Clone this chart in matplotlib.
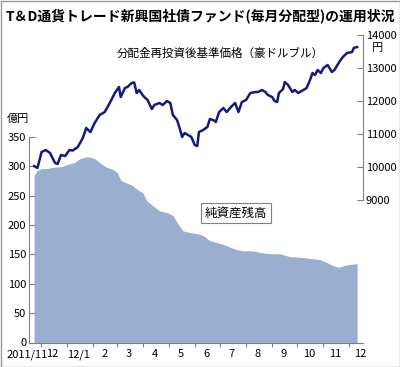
import matplotlib
matplotlib.use("Agg")
import matplotlib.pyplot as plt
import matplotlib.dates as mdates
from matplotlib.patches import Rectangle
import pandas as pd

plt.rcParams['font.family'] = ['Noto Sans CJK JP', 'DejaVu Sans']

# 分配金再投資後基準価格（円）
nav_dates = ["2011-11-23", "2011-11-27", "2011-12-02", "2011-12-07", "2011-12-12", "2011-12-18",
             "2011-12-21", "2011-12-25", "2011-12-30", "2012-01-04", "2012-01-08", "2012-01-14",
             "2012-01-20", "2012-01-24", "2012-01-29", "2012-02-03", "2012-02-09", "2012-02-15",
             "2012-02-21", "2012-02-27", "2012-03-03", "2012-03-05", "2012-03-10", "2012-03-13",
             "2012-03-18", "2012-03-21", "2012-03-24", "2012-03-27", "2012-03-31", "2012-04-02",
             "2012-04-06", "2012-04-11", "2012-04-14", "2012-04-20", "2012-04-24", "2012-04-29",
             "2012-05-03", "2012-05-06", "2012-05-11", "2012-05-14", "2012-05-17", "2012-05-20",
             "2012-05-24", "2012-05-28", "2012-06-01", "2012-06-04", "2012-06-06", "2012-06-11",
             "2012-06-16", "2012-06-19", "2012-06-23", "2012-06-26", "2012-06-30", "2012-07-05",
             "2012-07-09", "2012-07-14", "2012-07-19", "2012-07-23", "2012-07-27", "2012-08-01",
             "2012-08-06", "2012-08-12", "2012-08-15", "2012-08-20", "2012-08-24", "2012-08-27",
             "2012-09-01", "2012-09-04", "2012-09-07", "2012-09-09", "2012-09-14", "2012-09-16",
             "2012-09-20", "2012-09-25", "2012-09-28", "2012-10-02", "2012-10-08", "2012-10-12",
             "2012-10-16", "2012-10-19", "2012-10-22", "2012-10-25", "2012-10-29", "2012-11-01",
             "2012-11-06", "2012-11-11", "2012-11-14", "2012-11-19", "2012-11-24", "2012-11-29",
             "2012-12-05", "2012-12-07", "2012-12-11"]
nav_values = [10030, 9970, 10454, 10515, 10424, 10121,
              10091, 10364, 10333, 10515, 10500, 10606,
              10879, 11182, 11060, 11333, 11576, 11666,
              11939, 12242, 12424, 12121, 12394, 12424,
              12545, 12560, 12242, 12333, 12182, 12121,
              12030, 11757, 11879, 11939, 11879, 12000,
              11939, 11576, 11424, 11182, 10909, 11030,
              10970, 10909, 10667, 10636, 11060, 11121,
              11212, 11454, 11424, 11364, 11666, 11788,
              11666, 11818, 11939, 11666, 11969, 12030,
              12242, 12272, 12272, 12333, 12272, 12182,
              12121, 12000, 11969, 12242, 12363, 12575,
              12485, 12272, 12333, 12242, 12333, 12394,
              12636, 12848, 12788, 12939, 12848, 13000,
              13091, 12878, 12939, 13151, 13333, 13454,
              13485, 13606, 13636]

# 純資産残高（億円）
asset_dates = ["2011-11-23", "2011-11-27", "2011-12-03", "2011-12-09", "2011-12-15", "2011-12-25",
               "2012-01-02", "2012-01-10", "2012-01-17", "2012-01-26", "2012-01-29", "2012-02-03",
               "2012-02-09", "2012-02-16", "2012-02-25", "2012-03-01", "2012-03-05", "2012-03-11",
               "2012-03-19", "2012-03-25", "2012-03-31", "2012-04-05", "2012-04-12", "2012-04-20",
               "2012-04-29", "2012-05-06", "2012-05-12", "2012-05-18", "2012-05-26", "2012-06-04",
               "2012-06-11", "2012-06-19", "2012-06-27", "2012-07-05", "2012-07-13", "2012-07-21",
               "2012-07-28", "2012-08-06", "2012-08-12", "2012-08-17", "2012-08-29", "2012-09-10",
               "2012-09-22", "2012-10-04", "2012-10-16", "2012-10-28", "2012-11-05", "2012-11-12",
               "2012-11-19", "2012-11-26", "2012-12-03", "2012-12-11"]
asset_values = [284, 293, 296, 296, 298, 299,
                303, 306, 313, 316, 315, 313,
                306, 299, 294, 289, 276, 272,
                267, 260, 255, 241, 233, 224,
                221, 216, 202, 190, 187, 185,
                182, 173, 170, 167, 162, 158,
                156, 156, 155, 153, 151, 151,
                146, 145, 143, 141, 136, 131,
                128, 131, 133, 134]

month_ticks = pd.date_range("2011-12-01", "2012-12-01", freq="MS")
month_labels = ["2011/11", "12", "12/1", "2", "3", "4", "5", "6", "7", "8", "9", "10", "11", "12"]
label_dates = pd.date_range("2011-11-01", "2012-12-01", freq="MS") + pd.Timedelta(days=14)

gray = '#808080'

fig = plt.figure(figsize=(4.0, 3.67), dpi=100)
ax = fig.add_axes([29 / 400, 24.5 / 367, 334 / 400, 307.5 / 367])
ax2 = ax.twinx()

ax.fill_between(pd.to_datetime(asset_dates), asset_values, 0, color='#9aafd0', linewidth=0)
ax2.plot(pd.to_datetime(nav_dates), nav_values, color='#141a80', linewidth=1.8)

ax.set_xlim(pd.Timestamp("2011-11-17"), pd.Timestamp("2012-12-18"))
ax.set_ylim(0, 523)
ax2.set_ylim(4682, 14000)

ax.set_yticks(range(0, 351, 50))
ax2.set_yticks(range(9000, 14001, 1000))
ax.set_xticks(month_ticks)
ax.set_xticklabels([])

for s in ['top', 'right']:
    ax.spines[s].set_visible(False)
for s in ['top', 'left', 'bottom']:
    ax2.spines[s].set_visible(False)
ax.spines['left'].set_bounds(0, 350)
ax2.spines['right'].set_bounds(9000, 14000)
for sp in [ax.spines['left'], ax.spines['bottom'], ax2.spines['right']]:
    sp.set_color(gray)
    sp.set_linewidth(0.8)

ax.tick_params(axis='y', direction='in', length=4, width=0.8, color=gray, labelsize=8, pad=2)
ax.tick_params(axis='x', direction='out', length=3, width=0.8, color=gray)
ax2.tick_params(axis='y', direction='in', length=4, width=0.8, color=gray, labelsize=8, pad=2)

xt = ax.get_xaxis_transform()
for d, lab in zip(label_dates, month_labels):
    ax.text(mdates.date2num(d), -0.022, lab, transform=xt, ha='center', va='top',
            fontsize=8, clip_on=False)

fig.text(0.5, 1 - 17 / 367, "T＆D通貨トレード新興国社債ファンド(毎月分配型)の運用状況",
         ha='center', va='center', fontsize=10, weight='bold')
fig.text(220 / 400, 1 - 53 / 367, "分配金再投資後基準価格（豪ドルブル）",
         ha='center', va='center', fontsize=8.3)
fig.text(18 / 400, 1 - 119 / 367, "億円", ha='center', va='center', fontsize=8)
fig.text(378 / 400, 1 - 48 / 367, "円", ha='center', va='center', fontsize=8)
fig.text(236 / 400, 1 - 213 / 367, "純資産残高", ha='center', va='center', fontsize=9,
         bbox=dict(boxstyle='square,pad=0.3', facecolor='white', edgecolor=gray, linewidth=0.8))

fig.patches.append(Rectangle((0.5 / 400, 0.5 / 367), 399 / 400, 366 / 367, transform=fig.transFigure,
                             fill=False, edgecolor='#999999', linewidth=1))

fig.savefig("out.png", dpi=100)
